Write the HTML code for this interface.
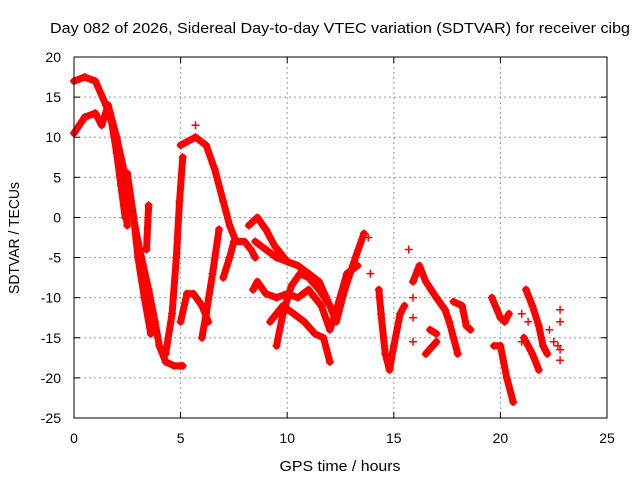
<!DOCTYPE html>
<html><head><meta charset="utf-8"><style>
body{margin:0;background:#fff}
svg text{font-family:"Liberation Sans",sans-serif;font-size:14px;fill:#000}
</style></head><body>
<svg id="c" width="640" height="480">
<text x="340" y="33" text-anchor="middle" textLength="580" lengthAdjust="spacingAndGlyphs" style="font-size:15px">Day 082 of 2026, Sidereal Day-to-day VTEC variation (SDTVAR) for receiver cibg</text>
<text x="340" y="471" text-anchor="middle" textLength="121" lengthAdjust="spacingAndGlyphs" style="font-size:15px">GPS time / hours</text>
<text transform="translate(19,238) rotate(-90)" text-anchor="middle" textLength="112" lengthAdjust="spacingAndGlyphs" style="font-size:15px">SDTVAR / TECUs</text>
<g id="grid"></g><g id="marks"></g>
<rect x="74" y="57" width="533" height="361" fill="none" stroke="#000"/>
</svg>
<script>
const xTicks=[0,5,10,15,20,25];
const yTicks=[20,15,10,5,0,-5,-10,-15,-20,-25];
const tracks=[
[[0,17],[0.5,17.5],[1,17],[1.5,14],[2,10],[2.5,4],[3,-3],[3.5,-9],[3.8,-13],[4,-16],[4.3,-18],[4.7,-18.5],[5.1,-18.5]],
[[0,10.5],[0.5,12.5],[1,13],[1.3,11.5],[1.6,14],[2,10],[2.3,3],[2.5,-1]],
[[1.7,13],[2,8],[2.2,4],[2.4,0]],
[[2.5,5.5],[2.8,0],[3,-5],[3.3,-10],[3.6,-14.5]],
[[3.4,-4],[3.5,1.5]],
[[4.3,-17],[4.6,-12],[4.8,-5],[4.95,2],[5.1,7.5]],
[[5,-13],[5.3,-9.5],[5.6,-9.5],[6,-11],[6.3,-13]],
[[6,-15],[6.2,-12],[6.5,-7],[6.8,-1.5]],
[[5,9],[5.7,10],[6.2,9],[6.6,6],[7,2],[7.3,-1],[7.6,-3],[8,-3],[8.3,-4],[8.5,-5]],
[[7.5,-3],[7.3,-5],[7,-7.5]],
[[8.2,-1],[8.6,0],[9,-1.5],[9.4,-3.5],[10,-5.5],[10.5,-6],[11,-7],[11.5,-8],[12,-11],[12.3,-13],[12.7,-9],[13.2,-5],[13.6,-2]],
[[8.5,-3],[9,-4],[9.5,-5],[10,-5.5]],
[[9.5,-16],[9.8,-12],[10.2,-8.5],[10.6,-7],[11,-7.5],[11.5,-9],[12,-11]],
[[8.4,-9],[8.6,-8],[9,-9.5],[9.5,-10],[10,-9.5],[10.5,-10],[11,-9],[11.6,-11],[12,-14],[12.2,-12.5],[12.8,-7],[13.3,-6]],
[[9.2,-13],[9.8,-11],[10.3,-12],[10.8,-13],[11.3,-14.5],[11.7,-15],[12,-18]],
[[14.3,-9],[14.4,-12],[14.6,-17],[14.8,-19],[15,-16],[15.3,-12],[15.5,-11]],
[[15.9,-8],[16.2,-6],[16.5,-8],[17,-10],[17.4,-11.5],[17.6,-13],[17.8,-15],[18,-17]],
[[17.8,-10.5],[18.2,-11],[18.4,-13.5],[18.6,-14]],
[[16.5,-17],[17,-15.5]],
[[16.7,-14],[17,-14.5]],
[[19.6,-10],[20,-12.5],[20.2,-13],[20.4,-12]],
[[19.7,-16],[20,-16],[20.3,-20],[20.6,-23]],
[[21.2,-9],[21.5,-11],[21.8,-13.5],[22,-16],[22.2,-17]],
[[21.1,-15],[21.5,-17],[21.8,-19]]
];
const singles=[[13.8,-2.5],[13.9,-7],[15.7,-4],[15.9,-10],[15.9,-12.5],[15.9,-15.5],[21,-12],[21,-15.5],[21.3,-13],[22.3,-14],[22.5,-15.5],[22.8,-11.5],[22.8,-13],[22.8,-16.5],[22.8,-17.8],[22.7,-16],[5.7,11.5],[5,-18.5]];
const X=v=>74+v*533/25, Y=v=>57+(20-v)*361/45;
const NS='http://www.w3.org/2000/svg';
const g=document.getElementById('grid'), m=document.getElementById('marks');
function mk(t,a,p){const e=document.createElementNS(NS,t);for(const k in a)e.setAttribute(k,a[k]);p.appendChild(e);return e;}
xTicks.forEach(v=>{
 if(v>0&&v<25){const l=mk('line',{x1:X(v),x2:X(v),y1:57,y2:418,stroke:'#999','stroke-dasharray':'2,3'},g);
 
 }
 mk('line',{x1:X(v),x2:X(v),y1:418,y2:412,stroke:'#000'},g);
 mk('line',{x1:X(v),x2:X(v),y1:57,y2:63,stroke:'#000'},g);
 const t=mk('text',{x:X(v),y:443,'text-anchor':'middle'},g);t.textContent=v;
 
 
});
yTicks.forEach(v=>{
 if(v<20&&v>-25){const l=mk('line',{x1:74,x2:607,y1:Y(v),y2:Y(v),stroke:'#999','stroke-dasharray':'2,3'},g);
 
 }
 mk('line',{x1:74,x2:80,y1:Y(v),y2:Y(v),stroke:'#000'},g);
 mk('line',{x1:607,x2:601,y1:Y(v),y2:Y(v),stroke:'#000'},g);
 const t=mk('text',{x:61,y:Y(v)+5,'text-anchor':'end'},g);t.textContent=v;
 
 
});
tracks.forEach(tr=>{
 const p=mk('polyline',{points:tr.map(d=>X(d[0])+','+Y(d[1])).join(' '),fill:'none',stroke:'#f00','stroke-width':7,'stroke-linejoin':'round','stroke-linecap':'round'},m);
 
 
});
singles.concat(...tracks).forEach(d=>{
 const x=X(d[0]),y=Y(d[1]);
 const p=mk('path',{d:`M${x-4},${y}H${x+4}M${x},${y-4}V${y+4}`,stroke:'#f00','stroke-width':1.5},m);
 
 
});
</script>
</body></html>
